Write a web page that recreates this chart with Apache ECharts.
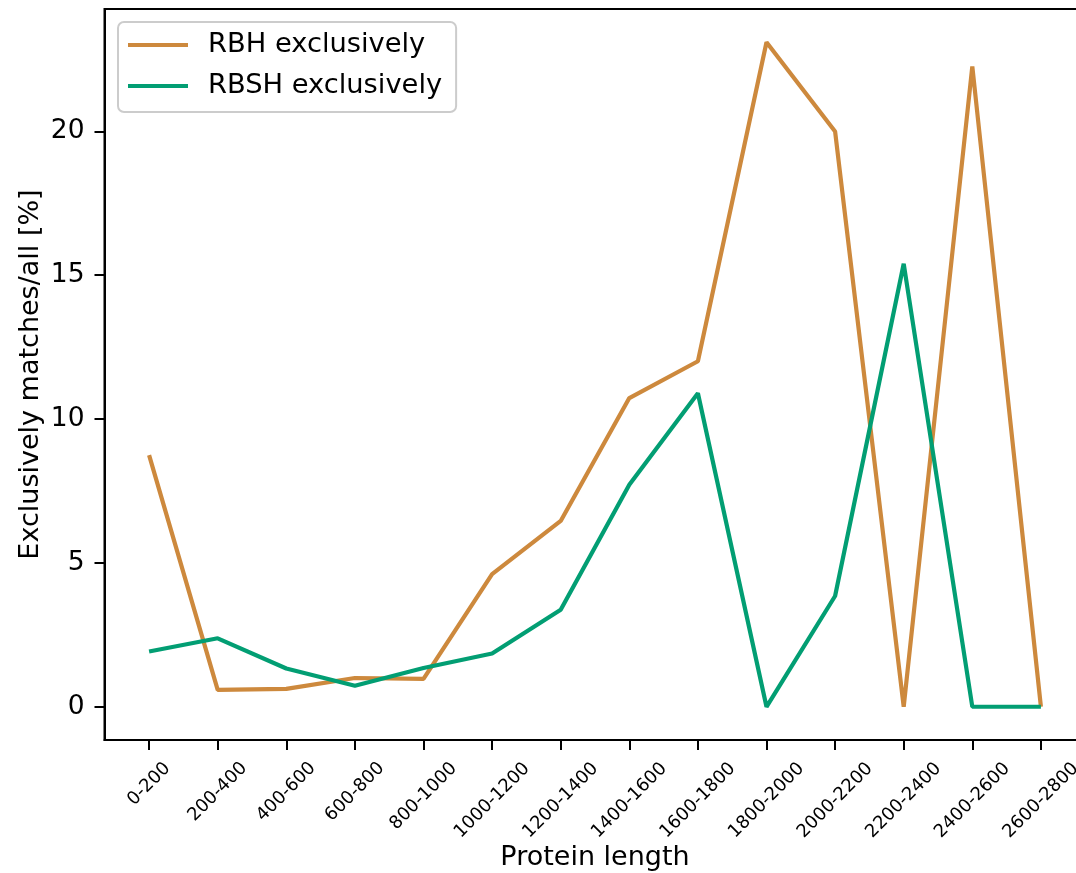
<!DOCTYPE html>
<html>
<head>
<meta charset="utf-8">
<script src="https://cdn.jsdelivr.net/npm/echarts@6/dist/echarts.min.js"></script>
<style>
html,body{margin:0;padding:0;background:#fff;overflow:hidden;width:1076px;height:873px;}
#chart{width:1090px;height:873px;}
</style>
</head>
<body>
<div id="chart"></div>
<script>
const categories = ['0-200','200-400','400-600','600-800','800-1000','1000-1200','1200-1400','1400-1600','1600-1800','1800-2000','2000-2200','2200-2400','2400-2600','2600-2800'];
const rbhValues  = [8.75, 0.59, 0.62, 1.0, 0.97, 4.61, 6.46, 10.73, 12.01, 23.1, 20.0, 0, 22.26, 0];
const rbshValues = [1.92, 2.38, 1.33, 0.73, 1.35, 1.85, 3.37, 7.72, 10.9, 0, 3.85, 15.4, 0, 0];
const yTicks = [0, 5, 10, 15, 20];
const seriesNames = ['RBH exclusively', 'RBSH exclusively'];

const FONT = 'DejaVu Sans';
const xTickFont = 18;
const idx = categories.map((c, i) => i);
const xMin = -0.65, xMax = idx.length - 1 + 0.65;
// hidden guard values at both ends, so that ECharts' min/max-label overlap check never hides a real label
const xCustom = [xMin].concat(idx, [xMax]);

// per-label padding so rotated labels are centred on their tick (matplotlib ha='center')
const ctx = document.createElement('canvas').getContext('2d');
ctx.font = xTickFont + 'px "' + FONT + '"';
const textH = 21;
const rich = {};
categories.forEach((c, i) => {
  const L = ctx.measureText(c).width;
  const p = Math.round((L + textH) / 2);
  rich['t' + i] = {fontSize: xTickFont, fontFamily: FONT, color: '#000', lineHeight: textH, padding: [p, p, 0, 0]};
});

const chart = echarts.init(document.getElementById('chart'), null, {renderer: 'canvas'});
chart.setOption({
  animation: false,
  backgroundColor: '#fff',
  textStyle: {fontFamily: FONT},
  grid: {left: 104.5, top: 9, width: 981, height: 731, show: true, borderColor: '#000', borderWidth: 2,
         containLabel: false, outerBoundsMode: 'none'},
  legend: {
    orient: 'vertical', left: 118, top: 22,
    padding: [8, 14, 11, 10],
    itemWidth: 60, itemHeight: 4, itemGap: 11,
    backgroundColor: 'rgba(255,255,255,0.8)',
    borderColor: '#cccccc', borderWidth: 2, borderRadius: 6,
    textStyle: {fontSize: 27.3, fontFamily: FONT, color: '#000', lineHeight: 30, padding: [0, 0, 0, 15]},
    data: seriesNames.map(n => ({name: n, icon: 'rect'}))
  },
  xAxis: {
    type: 'value', min: xMin, max: xMax,
    name: 'Protein length', nameLocation: 'middle', nameGap: 104, nameMoveOverlap: false,
    nameTextStyle: {fontSize: 27, fontFamily: FONT, color: '#000'},
    splitLine: {show: false},
    axisLine: {show: true, onZero: false, lineStyle: {color: '#000', width: 2}},
    axisTick: {show: true, length: 10, lineStyle: {color: '#000', width: 2}, customValues: xCustom},
    axisLabel: {
      customValues: xCustom, rotate: 45, align: 'center', verticalAlign: 'middle', margin: 18,
      showMinLabel: false, showMaxLabel: false, hideOverlap: false,
      fontSize: xTickFont, fontFamily: FONT, color: '#000',
      formatter: v => {
        const i = Math.round(v);
        if (Math.abs(v - i) > 1e-6 || i < 0 || i >= categories.length) return '';
        return '{t' + i + '|' + categories[i] + '}';
      },
      rich: rich
    }
  },
  yAxis: {
    type: 'value', min: -1.155, max: 24.255,
    name: 'Exclusively matches/all [%]', nameLocation: 'middle', nameGap: 60, nameMoveOverlap: false,
    nameTextStyle: {fontSize: 27, fontFamily: FONT, color: '#000'},
    splitLine: {show: false},
    axisLine: {show: true, onZero: false, lineStyle: {color: '#000', width: 2}},
    axisTick: {show: true, length: 10, lineStyle: {color: '#000', width: 2}, customValues: yTicks},
    axisLabel: {customValues: yTicks, margin: 20, fontSize: 26.5, fontFamily: FONT, color: '#000'}
  },
  series: [
    {name: seriesNames[0], type: 'line', data: rbhValues.map((v, i) => [idx[i], v]), showSymbol: false, symbol: 'none',
     lineStyle: {color: '#CD893D', width: 4.2}, itemStyle: {color: '#CD893D'}},
    {name: seriesNames[1], type: 'line', data: rbshValues.map((v, i) => [idx[i], v]), showSymbol: false, symbol: 'none',
     lineStyle: {color: '#029E73', width: 4.2}, itemStyle: {color: '#029E73'}}
  ]
});
</script>
</body>
</html>
